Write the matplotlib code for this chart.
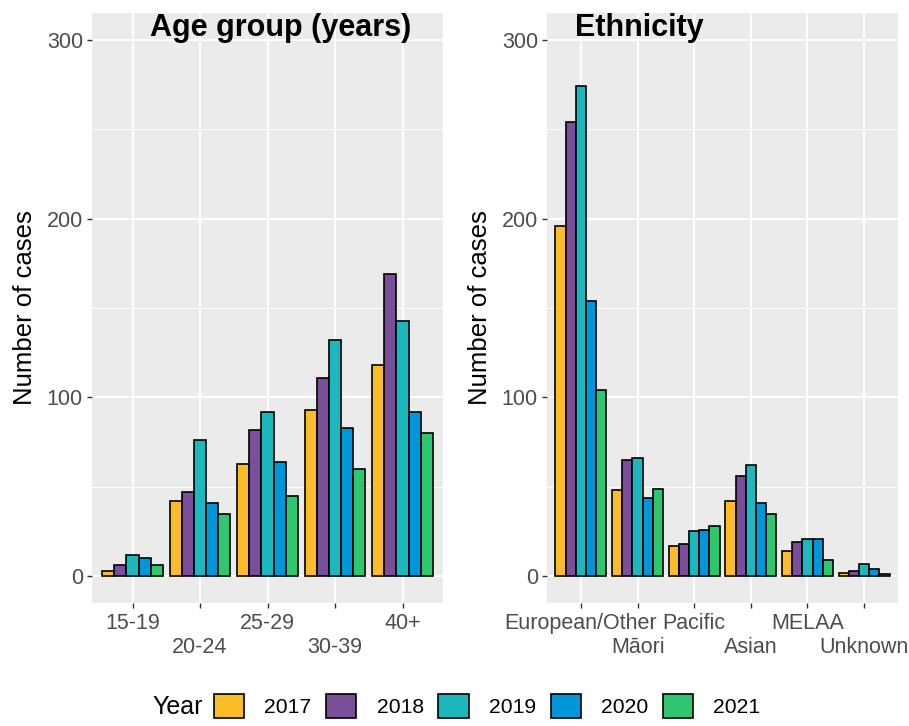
import numpy as np
import matplotlib.pyplot as plt

# data
years = ["2017", "2018", "2019", "2020", "2021"]
colors = ["#FBBC2A", "#7A4E98", "#1CB8BE", "#0097DA", "#2EC770"]

age_groups = ["15-19", "20-24", "25-29", "30-39", "40+"]
age_2017 = [3, 42, 63, 93, 118]
age_2018 = [6, 47, 82, 111, 169]
age_2019 = [12, 76, 92, 132, 143]
age_2020 = [10, 41, 64, 83, 92]
age_2021 = [6, 35, 45, 60, 80]

ethnicities = ["European/Other", "Māori", "Pacific", "Asian", "MELAA", "Unknown"]
eth_2017 = [196, 48, 17, 42, 14, 2]
eth_2018 = [254, 65, 18, 56, 19, 3]
eth_2019 = [274, 66, 25, 62, 21, 7]
eth_2020 = [154, 44, 26, 41, 21, 4]
eth_2021 = [104, 49, 28, 35, 9, 1]

plt.rcParams['font.family'] = ['Liberation Sans', 'DejaVu Sans']

fig = plt.figure(figsize=(9.09, 7.26), dpi=100)
W, H = 909, 726


def panel(x0, x1, y0, y1):
    return fig.add_axes([x0 / W, 1 - y1 / H, (x1 - x0) / W, (y1 - y0) / H])


def draw(ax, cats, series, title, title_px):
    n = len(cats)
    x = np.arange(1, n + 1)
    w = 0.9 / len(series)
    for j, (vals, c) in enumerate(zip(series, colors)):
        ax.bar(x + (j - 2) * w, vals, width=w, color=c, edgecolor="black",
               linewidth=1.2, label=years[j], zorder=3)
    ax.set_facecolor("#EBEBEB")
    ax.set_xlim(0.4, n + 0.6)
    ax.set_ylim(-15, 315)
    ax.set_yticks([0, 100, 200, 300])
    ax.set_yticks([50, 150, 250], minor=True)
    # dodged x labels: odd categories on row 1 (major), even on row 2 (minor)
    ax.set_xticks(x[0::2])
    ax.set_xticklabels(cats[0::2])
    ax.set_xticks(x[1::2], minor=True)
    ax.set_xticklabels(cats[1::2], minor=True)
    ax.grid(True, which="major", color="white", linewidth=1.4, zorder=0)
    ax.grid(True, which="minor", axis="x", color="white", linewidth=1.4, zorder=0)
    ax.grid(True, which="minor", axis="y", color="white", linewidth=0.7, zorder=0)
    ax.tick_params(which="both", length=3.5, color="#333333", width=1.0,
                   labelcolor="#4D4D4D", labelsize=15.5, pad=4)
    ax.tick_params(axis="y", which="minor", length=0)
    ax.tick_params(axis="y", which="major", pad=3)
    ax.tick_params(axis="x", which="minor", pad=21)
    for s in ax.spines.values():
        s.set_visible(False)
    ax.set_ylabel("Number of cases", fontsize=18.5, labelpad=7)
    # title drawn inside the panel, left edge and baseline in pixels
    fig.text(title_px / W, 1 - 36 / H, title, ha="left", va="baseline",
             fontsize=22, fontweight="bold", zorder=5)


ax1 = panel(92, 443, 13, 603)
draw(ax1, age_groups, [age_2017, age_2018, age_2019, age_2020, age_2021],
     "Age group (years)", 150)

ax2 = panel(547, 898, 13, 603)
draw(ax2, ethnicities, [eth_2017, eth_2018, eth_2019, eth_2020, eth_2021],
     "Ethnicity", 575)

handles, labels = ax1.get_legend_handles_labels()
fig.legend(handles, labels, ncol=5, loc="center left",
           bbox_to_anchor=(214 / W, 1 - 706 / H), frameon=False, fontsize=15.2,
           handlelength=1.43, handleheight=1.43, handletextpad=0.95,
           columnspacing=0.7, borderaxespad=0, borderpad=0)
fig.text(152 / W, 1 - 707 / H, "Year", fontsize=18, va="center", ha="left")

fig.savefig("out.png", dpi=100)
